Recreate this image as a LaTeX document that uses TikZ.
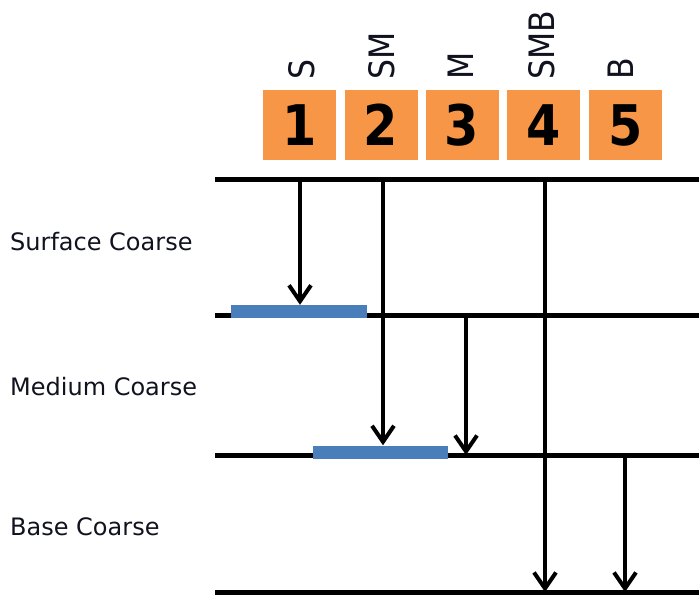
\documentclass[tikz,border=0pt]{standalone}
\usepackage{fontspec}
\setmainfont{DejaVu Sans}
\usetikzlibrary{arrows.meta}
\definecolor{boxorange}{HTML}{F79646}
\definecolor{barblue}{HTML}{4A7EBB}
\definecolor{inkdark}{HTML}{10121E}
\newcommand{\boxdigit}[1]{\raisebox{-3pt}{\scalebox{0.88}[1]{#1}}}
\begin{document}
\begin{tikzpicture}[x=1pt,y=-1pt,
  numbox/.style={fill=boxorange, minimum width=73pt, minimum height=70pt,
    inner sep=0pt, font=\fontsize{56}{56}\selectfont\bfseries},
  toplabel/.style={rotate=90, anchor=west, inner sep=0pt, text=inkdark,
    font=\fontsize{35}{35}\selectfont},
  sidelabel/.style={anchor=base west, inner sep=0pt, text=inkdark,
    font=\fontsize{24}{24}\selectfont},
  layerline/.style={line width=5pt},
  bar/.style={fill=barblue, inner sep=0pt, minimum height=13pt},
  flow/.style={line width=4pt, -{Straight Barb[length=16pt,width=22pt]}}
]
\useasboundingbox (0,0) rectangle (699,599);

% numbered orange boxes
\node[numbox] (b1) at (299.5,125) {\boxdigit{1}};
\node[numbox] (b2) at (381,125) {\boxdigit{2}};
\node[numbox] (b3) at (462,125) {\boxdigit{3}};
\node[numbox] (b4) at (543.5,125) {\boxdigit{4}};
\node[numbox] (b5) at (625.5,125) {\boxdigit{5}};

% rotated layer codes above the boxes
\node[toplabel] (l1) at (302,80) {\scalebox{0.9}[1]{S}};
\node[toplabel] (l2) at (382,80) {\scalebox{0.9}[1]{SM}};
\node[toplabel] (l3) at (461,80) {\scalebox{0.9}[1]{M}};
\node[toplabel] (l4) at (542,80) {\scalebox{0.9}[1]{SMB}};
\node[toplabel] (l5) at (621,80) {\scalebox{0.9}[1]{B}};

% layer names
\node[sidelabel] (s1) at (10,250) {Surface Coarse};
\node[sidelabel] (s2) at (10,395) {Medium Coarse};
\node[sidelabel] (s3) at (10,535) {Base Coarse};

% layer boundaries
\coordinate (h0a) at (215,180); \coordinate (h0b) at (699,180);
\coordinate (h1a) at (215,315); \coordinate (h1b) at (699,315);
\coordinate (h2a) at (215,455); \coordinate (h2b) at (699,455);
\coordinate (h3a) at (215,592); \coordinate (h3b) at (699,592);
\draw[layerline] (h0a) -- (h0b);
\draw[layerline] (h1a) -- (h1b);
\draw[layerline] (h2a) -- (h2b);
\draw[layerline] (h3a) -- (h3b);

% blue bars on the boundaries
\node[bar, minimum width=136pt] (bar1) at (299,311.5) {};
\node[bar, minimum width=135pt] (bar2) at (380.5,452) {};

% flow arrows
\coordinate (a1) at (300,180);
\coordinate (a2) at (383,180);
\coordinate (a3) at (466,315);
\coordinate (a4) at (545,180);
\coordinate (a5) at (625,455);
\draw[flow] (a1) -- (a1 |- bar1.north);
\draw[flow] (a2) -- (a2 |- bar2.north);
\draw[flow] (a3) -- (a3 |- h2a);
\draw[flow] (a4) -- (a4 |- h3a);
\draw[flow] (a5) -- (a5 |- h3a);
\end{tikzpicture}
\end{document}
